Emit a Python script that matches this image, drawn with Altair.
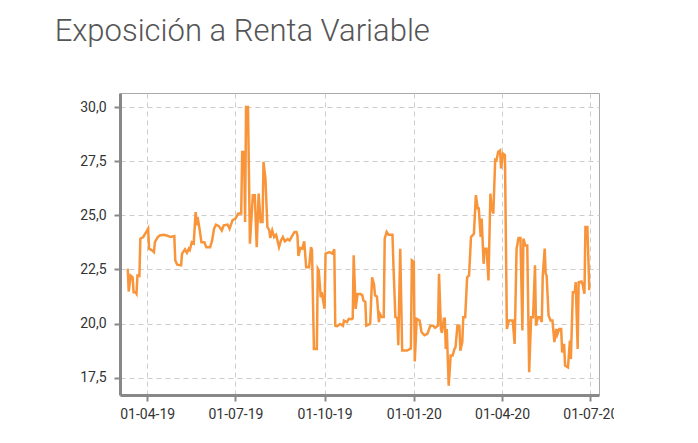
import altair as alt
import pandas as pd

# day offsets from 2019-04-01 and values
days = [-20, -19, -17, -15, -14, -12, -11, -10, -8, -7, -4, -2, 0, 1, 2, 5, 7, 8, 11, 13,
        17, 20, 24, 28, 29, 31, 35, 36, 39, 41, 43, 44, 46, 48, 50, 51, 52, 54, 56, 59,
        61, 65, 67, 69, 71, 74, 77, 79, 83, 85, 88, 91, 94, 97, 98, 100, 101, 102, 104, 106,
        107, 109, 111, 113, 115, 117, 119, 120, 122, 124, 126, 127, 129, 131, 133, 136, 138, 140, 142, 145,
        147, 149, 152, 154, 155, 156, 158, 160, 162, 164, 167, 169, 170, 172, 175, 176, 177, 179, 180, 183,
        184, 188, 191, 193, 194, 196, 199, 202, 203, 206, 208, 211, 212, 213, 215, 217, 220, 222, 223, 225,
        226, 230, 232, 234, 235, 237, 239, 240, 242, 244, 245, 247, 249, 253, 254, 256, 258, 259, 261, 263,
        268, 272, 273, 275, 276, 278, 281, 283, 286, 289, 292, 295, 297, 300, 301, 303, 304, 306, 307, 308,
        309, 311, 313, 315, 317, 318, 320, 322, 323, 325, 326, 328, 330, 332, 334, 336, 337, 339, 341, 342,
        344, 345, 347, 348, 350, 352, 354, 355, 357, 359, 360, 362, 364, 365, 367, 369, 371, 373, 377, 379,
        381, 383, 385, 387, 388, 390, 392, 394, 396, 398, 400, 401, 403, 405, 407, 408, 410, 411, 412, 414,
        416, 418, 420, 422, 423, 425, 427, 428, 430, 431, 434, 436, 437, 439, 441, 442, 444, 445, 448, 449,
        451, 452, 454, 456, 457]

values = [22.53, 21.48, 22.22, 22.14, 21.45, 21.45, 21.38, 22.22, 22.20, 23.92, 24.00, 24.15, 24.30, 24.38, 23.46, 23.38, 23.30, 23.76, 24.00, 24.07,
          24.10, 24.07, 24.00, 24.04, 22.92, 22.72, 22.69, 23.23, 23.43, 23.27, 23.46, 23.40, 23.76, 23.70, 25.15, 24.54, 24.92, 24.38, 23.76, 23.76,
          23.53, 23.53, 23.84, 24.38, 24.57, 24.50, 24.30, 24.54, 24.57, 24.38, 24.77, 24.85, 25.08, 25.08, 27.93, 27.93, 24.69, 30.00, 30.00, 23.69,
          24.46, 25.93, 25.93, 23.53, 26.00, 24.69, 24.69, 27.47, 26.70, 24.46, 24.30, 23.95, 24.30, 24.00, 24.10, 23.53, 23.84, 24.00, 23.80, 23.90,
          23.84, 24.00, 24.23, 24.23, 24.07, 23.12, 23.49, 23.46, 23.80, 22.60, 22.60, 23.53, 23.40, 18.83, 18.83, 22.53, 22.45, 21.22, 21.45, 20.68,
          23.23, 23.30, 23.23, 23.43, 19.90, 19.88, 19.98, 19.90, 20.14, 20.07, 20.22, 20.20, 20.25, 23.15, 20.68, 21.37, 21.37, 21.30, 21.07, 21.00,
          19.90, 19.98, 22.14, 21.80, 21.30, 21.25, 20.07, 20.45, 20.30, 20.30, 23.92, 24.23, 24.10, 24.10, 22.69, 20.30, 20.25, 19.00, 23.46, 18.75,
          18.75, 18.85, 22.92, 22.85, 18.25, 20.22, 20.14, 19.60, 19.46, 19.52, 19.90, 19.90, 19.80, 19.90, 22.30, 19.75, 19.57, 20.22, 20.22, 18.83,
          19.75, 17.13, 18.52, 18.52, 18.83, 18.90, 19.90, 19.90, 18.75, 19.14, 20.29, 20.29, 22.14, 22.22, 24.00, 24.10, 24.15, 25.93, 25.31, 25.31,
          24.00, 24.85, 22.76, 23.46, 23.46, 21.99, 26.00, 25.46, 25.08, 27.63, 27.47, 27.93, 28.00, 27.16, 27.85, 27.78, 19.75, 20.14, 20.14, 19.06,
          23.46, 23.95, 23.95, 19.68, 23.92, 23.61, 23.61, 17.75, 20.29, 20.29, 22.69, 19.90, 20.29, 20.29, 20.07, 22.22, 23.46, 22.30, 22.22, 20.37,
          20.14, 20.14, 19.14, 19.75, 19.50, 19.75, 19.75, 18.67, 19.06, 18.06, 17.98, 19.21, 18.37, 21.45, 21.45, 21.91, 18.83, 21.91, 21.94, 21.83,
          21.38, 24.46, 24.46, 21.60, 21.60]

base = pd.Timestamp("2019-04-01")
dates = [(base + pd.Timedelta(days=d)).strftime("%Y-%m-%dT00:00:00") for d in days]
df = pd.DataFrame({"fecha": dates, "valor": values})

tick_dates = [alt.DateTime(year=2019, month=4, date=1), alt.DateTime(year=2019, month=7, date=1),
              alt.DateTime(year=2019, month=10, date=1), alt.DateTime(year=2020, month=1, date=1),
              alt.DateTime(year=2020, month=4, date=1), alt.DateTime(year=2020, month=7, date=1)]
y_ticks = [17.5, 20.0, 22.5, 25.0, 27.5, 30.0]

chart = alt.Chart(df).mark_line(color="#F8953B", strokeWidth=2.5).encode(
    x=alt.X("fecha:T",
            scale=alt.Scale(domain=[alt.DateTime(year=2019, month=3, date=4),
                                    alt.DateTime(year=2020, month=7, date=10)], nice=False),
            axis=alt.Axis(values=tick_dates, format="%d-%m-%y", title=None, labelPadding=6)),
    y=alt.Y("valor:Q",
            scale=alt.Scale(domain=[16.7, 30.65], nice=False, zero=False),
            axis=alt.Axis(values=y_ticks, title=None, labelPadding=8,
                          labelExpr="replace(format(datum.value, '.1f'), '.', ',')")),
).properties(
    width=479,
    height=302,
    title=alt.TitleParams("Exposición a Renta Variable", anchor="start", dx=-25, offset=21,
                          baseline="alphabetic", font="Roboto", fontSize=31, fontWeight=300,
                          color="#555555"),
    autosize=alt.AutoSizeParams(type="none"),
    padding={"left": 112, "top": 85, "right": 15, "bottom": 40},
).configure_view(
    stroke="#AAAAAA", strokeWidth=1
).configure_axis(
    domainColor="#888888", domainWidth=3, tickColor="#888888", tickWidth=2, tickSize=6,
    gridColor="#CCCCCC", gridDash=[5, 4], gridWidth=1,
    labelFont="Roboto", labelFontSize=14, labelColor="#333333"
)

chart.save("out.html", embed_options={"renderer": "svg", "actions": False})
